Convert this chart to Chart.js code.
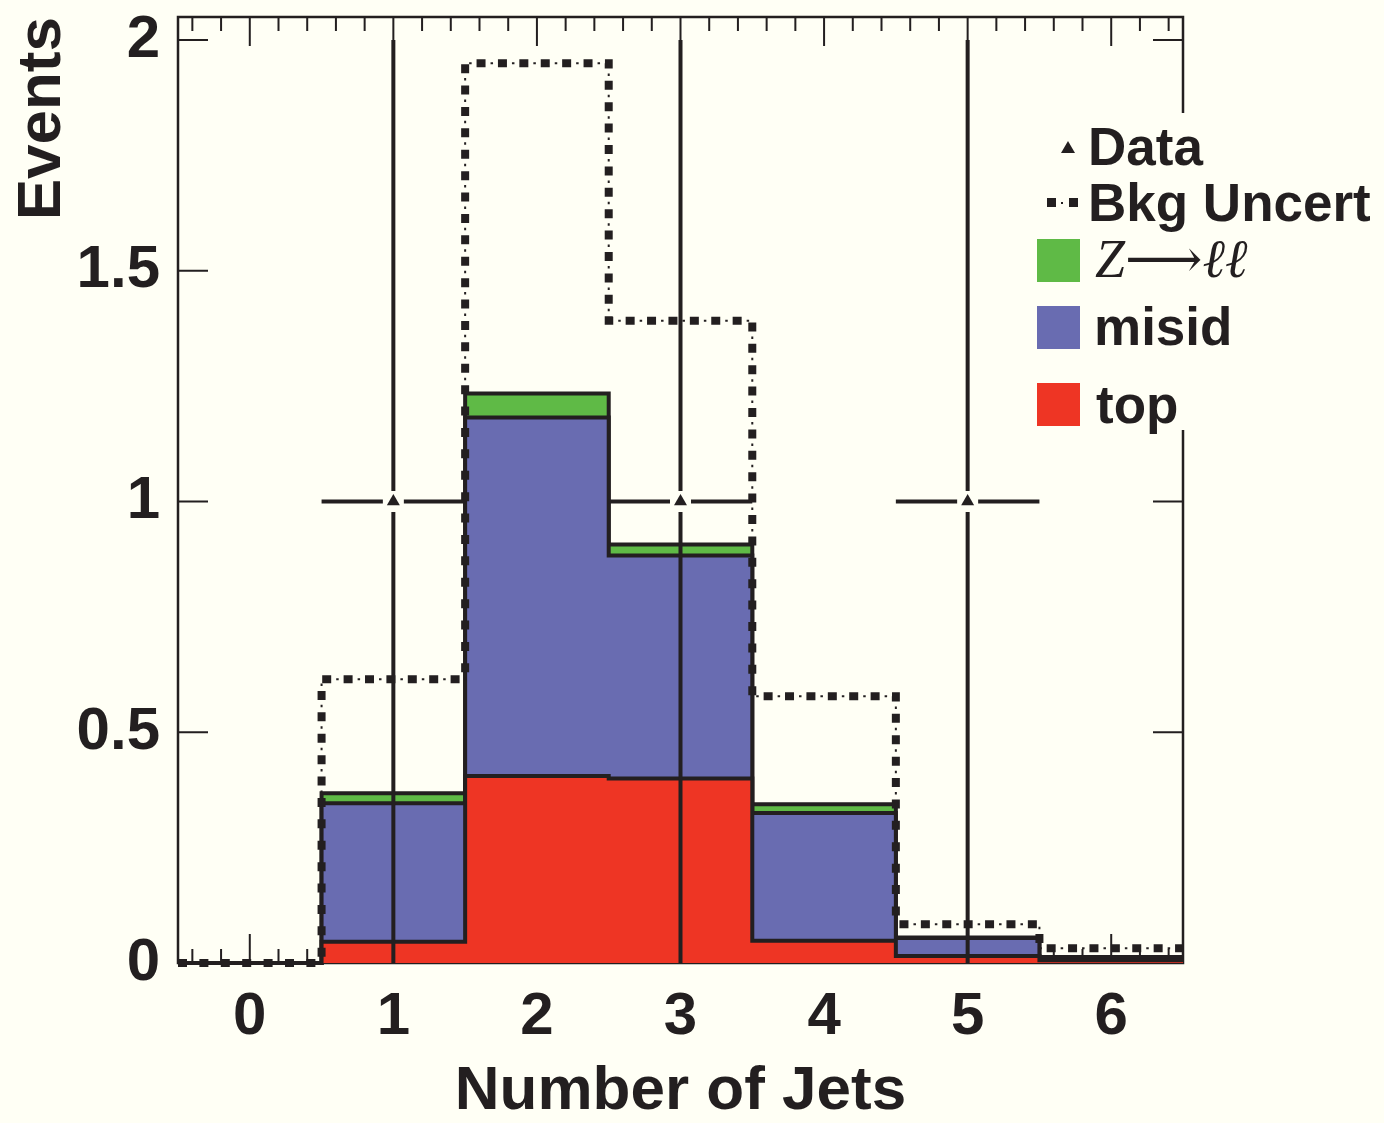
<!DOCTYPE html>
<html>
<head>
<meta charset="utf-8">
<title>Number of Jets</title>
<script src="https://cdn.jsdelivr.net/npm/chart.js@4.4.1/dist/chart.umd.min.js"></script>
<style>
    body { margin: 0; background: #fffff5; }
    #wrap { position: relative; width: 1384px; height: 1123px; }
    #legend {
        position: absolute; left: 1030px; top: 113px; width: 354px; height: 317px;
        background: #fffff5; color: #231f20;
        font-family: "Liberation Sans", Arial, sans-serif; font-weight: bold;
    }
    #legend .txt { position: absolute; font-size: 53px; line-height: 52px; white-space: nowrap; }
    #legend .math { font-family: "Liberation Serif", "DejaVu Serif", serif; font-style: italic; font-weight: normal; font-size: 54px; line-height: 54px; }
    #legend .box { position: absolute; width: 43px; height: 43px; }
    #legend .sq { position: absolute; width: 9px; height: 9px; background: #231f20; }
    #legend .dot { position: absolute; width: 2px; height: 2px; background: #231f20; }
    #legend .tri {
        position: absolute; width: 0; height: 0;
        border-left: 7px solid transparent; border-right: 7px solid transparent;
        border-bottom: 12px solid #231f20;
    }
</style>
</head>
<body>
<div id="wrap">
    <canvas id="jetChart" width="1384" height="1123"></canvas>
    <div id="legend">
        <div class="tri" style="left:31px; top:28px;"></div>
        <div class="txt" style="left:58px; top:8px;">Data</div>
        <div class="sq" style="left:17px; top:85px;"></div>
        <div class="dot" style="left:31px; top:89px;"></div>
        <div class="sq" style="left:39px; top:85px;"></div>
        <div class="txt" style="left:58px; top:64px;">Bkg Uncert</div>
        <div class="box" style="left:7px; top:126px; background:#5fba46;"></div>
        <div class="txt math" style="left:65px; top:119px;">Z⟶ℓℓ</div>
        <div class="box" style="left:7px; top:193px; background:#696cb1;"></div>
        <div class="txt" style="left:64px; top:188px;">misid</div>
        <div class="box" style="left:7px; top:270px; background:#ee3524;"></div>
        <div class="txt" style="left:66px; top:266px;">top</div>
    </div>
</div>
<script>
// Jet multiplicity bins
const jetBins = [0, 1, 2, 3, 4, 5, 6];

// Background components, per bin (not stacked)
const topVals   = [0, 0.046, 0.405, 0.400, 0.048, 0.015, 0.006];
const misidVals = [0, 0.300, 0.777, 0.483, 0.277, 0.039, 0.006];
const zllVals   = [0, 0.022, 0.052, 0.024, 0.019, 0.001, 0.001];

// Background uncertainty envelope
const bkgUncert = [0, 0.615, 1.950, 1.392, 0.578, 0.084, 0.032];

// Observed data
const dataBins    = [1, 3, 5];
const dataVals    = [1, 1, 1];
const dataErrLow  = [1, 1, 1];
const dataErrHigh = [1, 1, 1];

// Axis ticks
const xTicks = [0, 1, 2, 3, 4, 5, 6];
const yTicks = [0, 0.5, 1, 1.5, 2];

const INK = '#231f20';
const FONT = '"Liberation Sans", Arial, sans-serif';

// Turn per-bin values into step points at the bin edges
function toSteps(vals) {
    const pts = [{ x: jetBins[0] - 0.5, y: vals[0] }];
    jetBins.forEach((b, i) => pts.push({ x: b + 0.5, y: vals[i] }));
    return pts;
}

function addArrays(a, b) {
    return a.map((v, i) => v + b[i]);
}

const cumMisid = addArrays(topVals, misidVals);
const cumZll = addArrays(cumMisid, zllVals);

// Frame and tick marks on all four sides
const frameTicks = {
    id: 'frameTicks',
    beforeDatasetsDraw(chart) {
        const { ctx, chartArea: a, scales: { x, y } } = chart;
        ctx.save();
        ctx.strokeStyle = INK;
        ctx.lineWidth = 2.5;
        ctx.strokeRect(a.left, a.top, a.right - a.left, a.bottom - a.top);

        ctx.lineWidth = 2;
        ctx.beginPath();
        // x ticks: major on integers, minor every 0.2
        for (let k = Math.ceil(x.min * 5); k <= Math.floor(x.max * 5); k++) {
            const px = x.getPixelForValue(k / 5);
            const len = k % 5 === 0 ? 29 : 14;
            ctx.moveTo(px, a.top);
            ctx.lineTo(px, a.top + len);
            ctx.moveTo(px, a.bottom);
            ctx.lineTo(px, a.bottom - len);
        }
        // y ticks on left and right
        yTicks.forEach(v => {
            const py = y.getPixelForValue(v);
            ctx.moveTo(a.left, py);
            ctx.lineTo(a.left + 30, py);
            ctx.moveTo(a.right, py);
            ctx.lineTo(a.right - 30, py);
        });
        ctx.stroke();
        ctx.restore();
    }
};

// Data error bars (full bin width horizontally), gap around the marker
const errorBars = {
    id: 'errorBars',
    afterDatasetsDraw(chart) {
        const { ctx, scales: { x, y } } = chart;
        const gap = 10.5;
        ctx.save();
        ctx.strokeStyle = INK;
        ctx.lineWidth = 4;
        ctx.beginPath();
        dataBins.forEach((b, i) => {
            const px = x.getPixelForValue(b);
            const py = y.getPixelForValue(dataVals[i]);
            const lo = y.getPixelForValue(dataVals[i] - dataErrLow[i]);
            const hi = y.getPixelForValue(dataVals[i] + dataErrHigh[i]);
            const xl = x.getPixelForValue(b - 0.5);
            const xr = x.getPixelForValue(b + 0.5);
            ctx.moveTo(px, hi); ctx.lineTo(px, py - gap);
            ctx.moveTo(px, py + gap); ctx.lineTo(px, lo);
            ctx.moveTo(xl, py); ctx.lineTo(px - gap, py);
            ctx.moveTo(px + gap, py); ctx.lineTo(xr, py);
        });
        ctx.stroke();
        ctx.restore();
    }
};

function stackLayer(vals, color, order) {
    return {
        data: toSteps(vals),
        stepped: 'after',
        fill: 'origin',
        backgroundColor: color,
        borderColor: INK,
        borderWidth: 4,
        pointRadius: 0,
        clip: false,
        order: order
    };
}

const ctx = document.getElementById('jetChart').getContext('2d');
const jetChart = new Chart(ctx, {
    type: 'line',
    data: {
        datasets: [
            {
                type: 'scatter',
                data: dataBins.map((b, i) => ({ x: b, y: dataVals[i] })),
                pointStyle: 'triangle',
                pointRadius: 7.5,
                pointBackgroundColor: INK,
                pointBorderWidth: 0,
                showLine: false,
                order: -1
            },
            {
                data: toSteps(bkgUncert),
                stepped: 'after',
                fill: false,
                borderColor: INK,
                borderWidth: 2,
                borderDash: [2.5, 18.9],
                borderDashOffset: 7.4,
                borderCapStyle: 'butt',
                pointRadius: 0,
                clip: false,
                order: 0
            },
            {
                data: toSteps(bkgUncert),
                stepped: 'after',
                fill: false,
                borderColor: INK,
                borderWidth: 8,
                borderDash: [9, 12.4],
                borderCapStyle: 'butt',
                pointRadius: 0,
                clip: false,
                order: 1
            },
            stackLayer(topVals, '#ee3524', 2),
            stackLayer(cumMisid, '#696cb1', 3),
            stackLayer(cumZll, '#5fba46', 4)
        ]
    },
    options: {
        responsive: false,
        animation: false,
        layout: { padding: { left: 0, top: 17, right: 201, bottom: 0 } },
        plugins: {
            legend: { display: false },
            tooltip: { enabled: false }
        },
        elements: { line: { tension: 0 } },
        scales: {
            x: {
                type: 'linear',
                min: -0.5,
                max: 6.5,
                grid: { display: false, drawTicks: false },
                border: { display: false },
                afterBuildTicks: s => { s.ticks = xTicks.map(v => ({ value: v })); },
                afterFit: s => { s.height = 160; s.paddingLeft = 0; s.paddingRight = 0; },
                ticks: {
                    padding: 18,
                    color: INK,
                    maxRotation: 0,
                    autoSkip: false,
                    callback: v => String(v),
                    font: { family: FONT, size: 60, weight: 'bold' }
                },
                title: {
                    display: true,
                    text: 'Number of Jets',
                    color: INK,
                    padding: 0,
                    font: { family: FONT, size: 62, weight: 'bold', lineHeight: 1 }
                }
            },
            y: {
                min: 0,
                max: 2.05,
                grid: { display: false, drawTicks: false },
                border: { display: false },
                afterBuildTicks: s => { s.ticks = yTicks.map(v => ({ value: v })); },
                afterFit: s => { s.width = 178; s.paddingTop = 0; s.paddingBottom = 0; },
                ticks: {
                    padding: 18,
                    color: INK,
                    callback: v => String(v),
                    font: { family: FONT, size: 60, weight: 'bold' }
                },
                title: {
                    display: true,
                    text: 'Events',
                    align: 'end',
                    color: INK,
                    padding: { top: 12, bottom: 0 },
                    font: { family: FONT, size: 62, weight: 'bold', lineHeight: 1 }
                }
            }
        }
    },
    plugins: [frameTicks, errorBars]
});
</script>
</body>
</html>
